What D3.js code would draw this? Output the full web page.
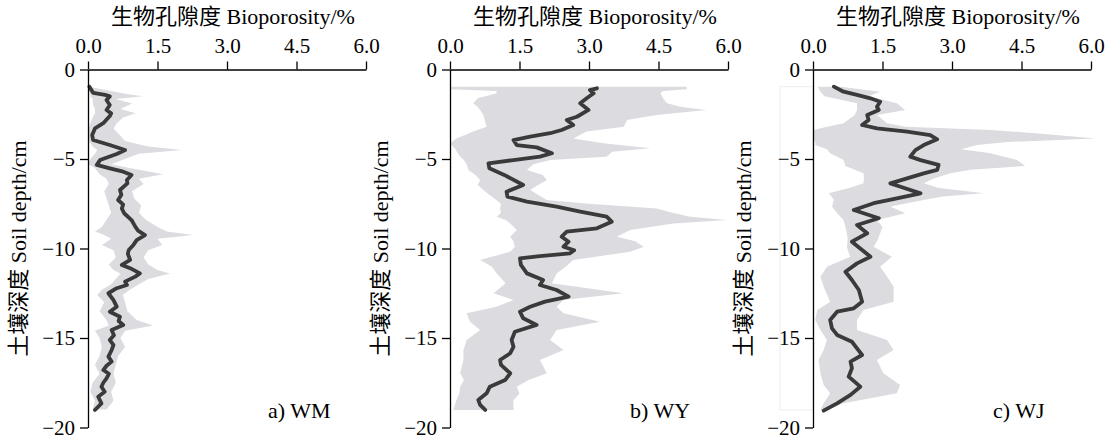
<!DOCTYPE html>
<html>
<head>
<meta charset="utf-8">
<script src="https://cdn.jsdelivr.net/npm/d3@7"></script>
<style>
  body { margin: 0; background: #fff; }
  svg text { font-family: "Liberation Serif", "Noto Sans CJK SC", serif; }
</style>
</head>
<body>
<script>
// x ticks (bioporosity %) and y ticks (soil depth cm)
const xTicks = [0, 1.5, 3.0, 4.5, 6.0];
const yTicks = [0, -5, -10, -15, -20];
const panelLabels = ['a) WM', 'b) WY', 'c) WJ'];

// WM mean line
const wmDepth = [0.96, 1.3, 1.42, 1.5, 1.7, 1.98, 2.26, 2.45, 2.6, 3.0, 3.29, 3.66, 3.94, 4.22, 4.5, 4.72, 5.06, 5.33, 5.52, 5.71,
  5.89, 6.17, 6.36, 6.73, 7.0, 7.29, 7.55, 7.76, 8.03, 8.41, 8.78, 9.0, 9.25, 9.53, 9.8, 10.08, 10.3, 10.64, 10.92, 11.1,
  11.39, 11.57, 11.85, 12.04, 12.22, 12.5, 12.88, 13.25, 13.53, 13.81, 14.05, 14.27, 14.55, 14.85, 15.11, 15.4, 15.67, 16.04, 16.32, 16.55,
  16.79, 17.0, 17.25, 17.5, 17.72, 18.0, 18.28, 18.65, 19.02];
const wmMean = [0.03, 0.11, 0.37, 0.47, 0.40, 0.47, 0.40, 0.50, 0.47, 0.33, 0.15, 0.09, 0.11, 0.47, 0.80, 0.62, 0.26, 0.19, 0.47, 0.76,
  0.94, 0.84, 0.85, 0.69, 0.72, 0.65, 0.76, 0.73, 0.78, 0.94, 1.02, 1.08, 1.23, 1.05, 0.98, 0.88, 0.86, 0.91, 0.73, 0.91,
  1.12, 1.02, 0.80, 0.84, 0.62, 0.44, 0.55, 0.62, 0.47, 0.69, 0.66, 0.76, 0.51, 0.56, 0.47, 0.55, 0.51, 0.44, 0.51, 0.40,
  0.33, 0.45, 0.40, 0.33, 0.29, 0.36, 0.22, 0.29, 0.15];
// WM band
const wmBandDepth = [1.0, 1.2, 1.4, 1.5, 1.65, 1.9, 2.2, 2.45, 2.7, 3.0, 3.3, 3.7, 4.0, 4.3, 4.5, 4.7, 5.0, 5.3, 5.5, 5.85,
  6.1, 6.4, 6.8, 7.2, 7.6, 8.0, 8.4, 8.8, 9.05, 9.25, 9.45, 9.8, 10.1, 10.5, 10.9, 11.2, 11.4, 11.7, 12.0, 12.3,
  12.6, 13.0, 13.5, 14.0, 14.3, 14.6, 15.0, 15.5, 16.0, 16.5, 17.0, 17.5, 18.0, 18.5, 19.0];
const wmLow = [0.0, 0.02, 0.05, 0.05, 0.1, 0.1, 0.15, 0.15, 0.1, 0.05, 0.02, 0.0, 0.02, 0.1, 0.2, 0.15, 0.05, 0.0, 0.15, 0.25,
  0.4, 0.45, 0.35, 0.4, 0.45, 0.5, 0.4, 0.3, 0.15, 0.35, 0.5, 0.3, 0.55, 0.6, 0.45, 0.55, 0.7, 0.6, 0.5, 0.3,
  0.2, 0.35, 0.25, 0.4, 0.45, 0.15, 0.25, 0.3, 0.25, 0.15, 0.25, 0.1, 0.05, 0.15, 0.1];
const wmHigh = [0.1, 0.5, 0.9, 1.19, 0.6, 0.95, 0.7, 1.02, 0.75, 0.62, 0.55, 0.7, 0.8, 1.3, 2.02, 1.1, 0.8, 0.5, 0.9, 1.62,
  1.1, 1.2, 0.95, 1.0, 1.15, 1.1, 1.25, 1.5, 1.7, 2.27, 1.5, 1.6, 1.3, 1.2, 1.3, 1.5, 1.77, 1.3, 1.1, 0.9,
  0.75, 0.8, 0.85, 1.05, 1.41, 0.8, 0.7, 0.8, 0.65, 0.6, 0.55, 0.6, 0.5, 0.55, 0.4];

// WY mean line
const wyDepth = [1.05, 1.15, 1.33, 1.61, 1.89, 2.26, 2.64, 2.82, 3.1, 3.38, 3.56, 3.75, 3.94, 4.22, 4.35, 4.68, 4.87, 5.06, 5.24, 5.52,
  5.89, 6.45, 6.83, 7.1, 7.38, 7.66, 7.94, 8.22, 8.5, 8.87, 9.06, 9.34, 9.62, 9.9, 10.1, 10.27, 10.42, 10.55, 10.92, 11.39,
  11.76, 12.04, 12.32, 12.69, 12.97, 13.25, 13.53, 13.9, 14.27, 14.65, 15.11, 15.49, 15.85, 16.23, 16.5, 16.97, 17.35, 17.72, 18.09, 18.46,
  18.74, 19.02];
const wyMean = [3.17, 3.02, 3.10, 2.95, 2.81, 2.99, 2.74, 2.52, 2.66, 2.41, 2.16, 1.73, 1.37, 1.44, 1.87, 2.20, 1.94, 1.37, 0.83, 0.85,
  1.17, 1.58, 1.22, 1.24, 1.66, 2.30, 2.81, 3.38, 3.49, 3.17, 2.52, 2.41, 2.56, 2.45, 2.68, 2.59, 1.94, 1.51, 1.53, 1.66,
  2.01, 1.94, 2.30, 2.56, 2.05, 1.73, 1.51, 1.58, 1.87, 1.40, 1.33, 1.37, 1.30, 1.08, 1.10, 1.30, 1.19, 0.86, 0.79, 0.61,
  0.65, 0.76];
// WY band
const wyBandDepth = [0.96, 1.1, 1.2, 1.33, 1.6, 1.89, 2.1, 2.26, 2.54, 2.82, 3.2, 3.47, 3.85, 4.12, 4.4, 4.6, 4.87, 5.06, 5.3, 5.61,
  5.9, 6.17, 6.45, 6.73, 7.0, 7.29, 7.5, 7.76, 8.0, 8.22, 8.41, 8.6, 8.97, 9.34, 9.6, 9.9, 10.18, 10.64, 11.0, 11.39,
  11.94, 12.5, 12.88, 13.25, 13.62, 14.09, 14.55, 15.11, 15.67, 16.23, 16.97, 17.35, 17.72, 18.1, 18.46, 19.02];
const wyLow = [0.0, 0.0, 1.0, 1.01, 0.6, 0.5, 0.6, 0.65, 0.72, 0.75, 0.79, 0.5, 0.14, 0.0, 0.1, 0.15, 0.22, 0.3, 0.36, 0.4,
  0.55, 0.65, 0.6, 0.72, 0.85, 1.0, 1.1, 1.08, 1.1, 1.01, 1.2, 1.3, 1.44, 1.3, 1.37, 1.4, 1.3, 0.65, 0.9, 1.01,
  1.2, 0.94, 1.37, 1.0, 0.36, 0.43, 0.65, 0.36, 0.29, 0.29, 0.22, 0.3, 0.22, 0.2, 0.14, 0.07];
const wyHigh = [5.11, 5.11, 4.6, 4.54, 4.6, 4.68, 5.0, 5.54, 4.46, 3.82, 3.75, 2.95, 2.66, 3.31, 4.32, 3.5, 3.38, 2.16, 1.8, 1.66,
  2.0, 2.09, 1.9, 1.73, 1.9, 2.09, 3.0, 4.46, 4.8, 5.18, 5.98, 4.82, 3.89, 3.6, 4.0, 4.18, 3.89, 2.66, 2.5, 2.3,
  2.2, 3.74, 2.45, 2.3, 2.45, 3.24, 2.3, 2.16, 2.45, 1.94, 2.09, 1.7, 1.44, 1.5, 1.37, 1.37];

// WJ mean line
const wjDepth = [0.96, 1.24, 1.42, 1.61, 1.8, 2.08, 2.26, 2.54, 2.82, 3.1, 3.29, 3.47, 3.66, 3.9, 4.22, 4.5, 4.87, 5.06, 5.33, 5.61,
  5.8, 6.08, 6.36, 6.55, 6.92, 7.2, 7.47, 7.85, 8.31, 8.69, 9.15, 9.62, 10.0, 10.46, 10.83, 11.3, 11.76, 12.32, 12.97, 13.34,
  13.53, 13.99, 14.46, 14.83, 15.21, 15.58, 15.95, 16.32, 16.69, 17.16, 17.72, 18.18, 18.65, 19.06];
const wjMean = [0.45, 0.66, 0.95, 1.24, 1.45, 1.38, 1.42, 1.17, 1.20, 1.06, 1.38, 2.03, 2.53, 2.68, 2.39, 2.21, 2.10, 2.32, 2.71, 2.68,
  2.39, 2.03, 1.67, 1.89, 2.32, 1.81, 1.31, 0.88, 1.42, 0.95, 1.17, 0.84, 1.02, 1.24, 0.95, 0.70, 0.84, 0.99, 1.06, 0.88,
  0.52, 0.37, 0.41, 0.52, 0.84, 0.95, 1.06, 0.81, 0.84, 0.77, 1.02, 0.81, 0.52, 0.23];
// WJ band
const wjBandDepth = [0.96, 1.24, 1.5, 1.89, 2.26, 2.54, 3.0, 3.2, 3.38, 3.6, 3.85, 4.05, 4.22, 4.45, 4.68, 5.06, 5.39, 5.6, 5.8, 6.1,
  6.36, 6.6, 6.92, 7.1, 7.29, 7.66, 8.03, 8.41, 8.8, 9.15, 9.5, 9.9, 10.46, 11.02, 11.58, 12.13, 12.97, 13.43, 13.99, 14.55,
  15.11, 15.67, 16.23, 16.97, 17.63, 18.09, 18.65, 19.02];
const wjLow = [0.1, 0.16, 0.25, 0.95, 0.95, 0.9, 0.66, 0.3, 0.01, 0.01, 0.01, 0.05, 0.05, 0.3, 0.37, 0.66, 0.7, 0.9, 1.09, 1.1,
  1.09, 0.8, 0.34, 0.4, 0.45, 0.41, 0.52, 0.66, 0.7, 0.73, 0.75, 0.73, 0.8, 0.3, 0.16, 0.23, 0.37, 0.09, 0.05, 0.16,
  0.3, 0.23, 0.12, 0.16, 0.23, 0.37, 0.23, 0.16];
const wjHigh = [0.6, 1.45, 1.2, 1.81, 1.99, 1.38, 1.6, 2.0, 3.83, 5.0, 6.1, 4.2, 3.54, 3.2, 3.83, 4.4, 4.58, 3.4, 2.96, 2.6,
  2.39, 2.7, 3.68, 2.8, 2.39, 1.67, 1.99, 1.38, 1.5, 1.45, 1.4, 1.31, 1.7, 1.45, 1.6, 1.74, 1.74, 1.09, 0.95, 0.95,
  1.6, 1.74, 1.38, 1.52, 1.88, 1.81, 0.66, 0.3];

const panels = [
  { left: 88, depth: wmDepth, mean: wmMean, bDepth: wmBandDepth, low: wmLow, high: wmHigh },
  { left: 450, depth: wyDepth, mean: wyMean, bDepth: wyBandDepth, low: wyLow, high: wyHigh },
  { left: 813, depth: wjDepth, mean: wjMean, bDepth: wjBandDepth, low: wjLow, high: wjHigh }
];

const width = 1110, height = 441;
const plotTop = 69.5, plotBottom = 427.5, plotW = 278;

const svg = d3.select('body').append('svg')
  .attr('width', width)
  .attr('height', height)
  .attr('viewBox', `0 0 ${width} ${height}`);

svg.append('rect').attr('width', width).attr('height', height).attr('fill', '#fff');

const y = d3.scaleLinear().domain([0, -20]).range([plotTop, plotBottom]);

panels.forEach((p, i) => {
  const x = d3.scaleLinear().domain([0, 6]).range([p.left, p.left + plotW]);

  const band = p.bDepth.map((d, k) => ({ d, lo: p.low[k], hi: p.high[k] }));
  const line = p.depth.map((d, k) => ({ d, v: p.mean[k] }));

  // faint frame left of the WJ axis
  if (i === 2) {
    svg.append('rect')
      .attr('x', p.left - 33).attr('y', y(-0.96))
      .attr('width', 33).attr('height', y(-19.02) - y(-0.96))
      .attr('fill', 'none').attr('stroke', '#ededed').attr('stroke-width', 1);
  }

  svg.append('path')
    .datum(band)
    .attr('fill', '#dcdbe0')
    .attr('d', d3.area()
      .y(d => y(-d.d))
      .x0(d => x(d.lo))
      .x1(d => x(d.hi)));

  svg.append('path')
    .datum(line)
    .attr('fill', 'none')
    .attr('stroke', '#3a3a3a')
    .attr('stroke-width', 3.8)
    .attr('stroke-linejoin', 'round')
    .attr('stroke-linecap', 'round')
    .attr('d', d3.line().x(d => x(d.v)).y(d => y(-d.d)));

  // top x axis
  const gx = svg.append('g')
    .attr('transform', `translate(0,${plotTop})`)
    .call(d3.axisTop(x).tickValues(xTicks).tickFormat(d3.format('.1f'))
      .tickSize(8).tickSizeOuter(0).tickPadding(8.5));

  // left y axis
  const gy = svg.append('g')
    .attr('transform', `translate(${p.left},0)`)
    .call(d3.axisLeft(y).tickValues(yTicks).tickSize(8).tickSizeOuter(0).tickPadding(5));

  [gx, gy].forEach(g => {
    g.selectAll('path, line').attr('stroke', '#000').attr('stroke-width', 1.3);
    g.selectAll('text').attr('font-size', 21).attr('fill', '#000')
      .attr('font-family', '"Liberation Serif", serif');
  });

  // axis titles
  svg.append('text')
    .attr('x', p.left + 145).attr('y', 24)
    .attr('text-anchor', 'middle')
    .attr('font-size', 22)
    .text('生物孔隙度 Bioporosity/%');

  svg.append('text')
    .attr('transform', `translate(${p.left - 62},${(plotTop + plotBottom) / 2}) rotate(-90)`)
    .attr('text-anchor', 'middle')
    .attr('font-size', 22)
    .text('土壤深度 Soil depth/cm');

  svg.append('text')
    .attr('x', p.left + 180).attr('y', 418)
    .attr('font-size', 22)
    .text(panelLabels[i]);
});
</script>
</body>
</html>
